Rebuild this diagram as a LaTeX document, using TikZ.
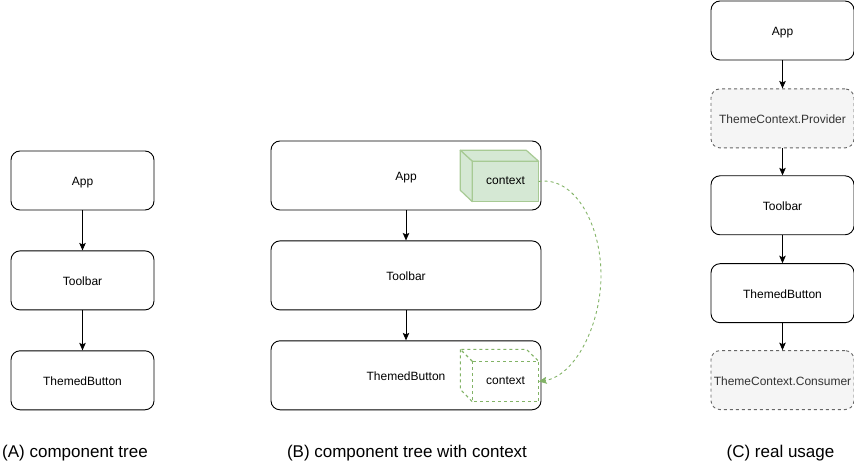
\documentclass[tikz,border=0pt]{standalone}
\usepackage{fontspec}
\usepackage{xcolor}
\setmainfont{Liberation Sans}
\usetikzlibrary{arrows.meta, positioning}
\definecolor{CtxGreen}{HTML}{82B366}
\definecolor{CtxFill}{HTML}{D5E8D4}
\definecolor{UsageGray}{HTML}{666666}
\definecolor{UsageFill}{HTML}{F5F5F5}
\definecolor{UsageText}{HTML}{333333}
\tikzset{
    comp/.style={draw=black, rounded corners=9pt, line width=0.9pt, minimum height=59pt, inner sep=0pt, text height=10.4pt, text depth=0pt, font=\fontsize{12}{14}\selectfont},
    compA/.style={comp, minimum width=143pt},
    compB/.style={comp, minimum width=270pt, minimum height=69pt},
    usage/.style={compA, draw=UsageGray, fill=UsageFill, text=UsageText, dashed},
    link/.style={-{Stealth[length=7.5pt,width=6.5pt,inset=1.5pt]}, line width=0.9pt},
    ctxsolid/.style={draw=CtxGreen!70, fill=CtxFill, line width=1.2pt, line join=round},
    ctxdash/.style={draw=CtxGreen, line width=1.1pt, dashed},
    ctxbox/.style={minimum width=66pt, minimum height=40pt, inner sep=0pt, text height=6.4pt, text depth=0pt, font=\fontsize{12}{14}\selectfont},
    caption/.style={font=\fontsize{17}{20}\selectfont, inner sep=0pt}
}
\begin{document}
\begin{tikzpicture}[x=1pt, y=-1pt, node distance=40pt]
    \useasboundingbox (0,0) rectangle (854,462);
    % Column A
    \node[compA] (appA) at (82.5,180.5) {App};
    \node[compA, below=of appA] (barA) {Toolbar};
    \node[compA, below=of barA] (btnA) {ThemedButton};
    \draw[link] (appA) -- (barA);
    \draw[link] (barA) -- (btnA);

    % Column B
    \node[compB] (appB) at (406,175.5) {App};
    \node[compB, below=30pt of appB] (barB) {Toolbar};
    \node[compB, below=30pt of barB] (btnB) {ThemedButton};
    \draw[link] (appB) -- (barB);
    \draw[link] (barB) -- (btnB);

    % Context cubes
    \node[ctxbox, fill=CtxFill] (ctxA) at (505.5,181.5) {context};
    \draw[ctxsolid, fill=none] (ctxA.north west) rectangle (ctxA.south east);
    \draw[ctxsolid] (ctxA.north west) -- ++(-12,-11) -- ++(66,0) -- (ctxA.north east) -- cycle;
    \draw[ctxsolid] (ctxA.north west) -- ++(-12,-11) -- ++(0,40) -- (ctxA.south west) -- cycle;
    \node[ctxbox] (ctxB) at (505.5,381.5) {context};
    \draw[ctxdash] (ctxB.north west) rectangle (ctxB.south east);
    \draw[ctxdash] (ctxB.north west) -- ++(-12,-12) -- ++(66,0) -- (ctxB.north east);
    \draw[ctxdash] (ctxB.north west) ++(-12,-12) -- ++(0,40) -- (ctxB.south west);

    % Dashed link between cubes
    \coordinate (bend) at (601,275);
    \draw[draw=CtxGreen, line width=0.9pt, dashed, -{Stealth[length=8pt,width=7pt,inset=1.5pt,fill=CtxGreen]}] (ctxA.east) .. controls (575,176) and (601,225) .. (bend) .. controls (601,325) and (575,376) .. (ctxB.east);

    % Column C
    \node[compA] (appC) at (782.5,30.5) {App};
    \node[usage, below=28pt of appC] (provC) {ThemeContext.Provider};
    \node[compA, below=27pt of provC] (barC) {Toolbar};
    \node[compA, below=28pt of barC] (btnC) {ThemedButton};
    \node[usage, below=27pt of btnC] (consC) {ThemeContext.Consumer};
    \draw[link] (appC) -- (provC);
    \draw[link] (provC) -- (barC);
    \draw[link] (barC) -- (btnC);
    \draw[link] (btnC) -- (consC);

    % Captions
    \node[caption] (capA) at (75,453) {(A) component tree};
    \node[caption] (capB) at (407,453) {(B) component tree with context};
    \node[caption] (capC) at (780.5,453) {(C) real usage};
\end{tikzpicture}
\end{document}
